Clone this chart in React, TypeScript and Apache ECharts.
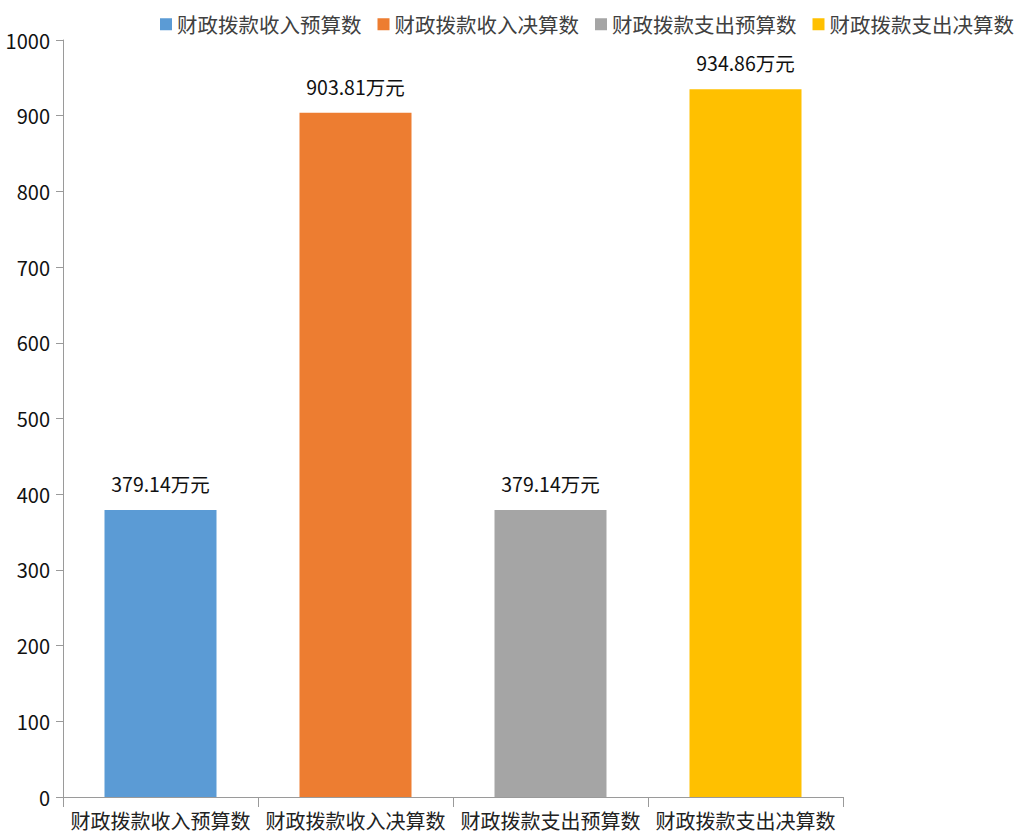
import React, { useEffect, useRef } from "react";
import * as echarts from "echarts";

const categories = ["财政拨款收入预算数", "财政拨款收入决算数", "财政拨款支出预算数", "财政拨款支出决算数"];
const values = [379.14, 903.81, 379.14, 934.86];
const colors = ["#5B9BD5", "#ED7D31", "#A5A5A5", "#FFC000"];
const yTicks = { min: 0, max: 1000, interval: 100 };
const FONT = "'Noto Sans CJK SC', 'Noto Sans', sans-serif";

export default function App() {
  const ref = useRef<HTMLDivElement>(null);
  useEffect(() => {
    const chart = echarts.init(ref.current!, null, { renderer: "svg" });
    const series = categories.map((name, i) => ({
      name,
      type: "bar",
      stack: "all",
      barWidth: 112,
      itemStyle: { color: colors[i] },
      label: {
        show: true,
        position: "top",
        distance: 17,
        color: "#111",
        fontSize: 19.5,
        fontFamily: FONT,
        formatter: (p: any) => `${p.value.toFixed(2)}万元`,
      },
      data: categories.map((_, j) => (j === i ? values[i] : "-")),
    }));
    chart.setOption({
      animation: false,
      textStyle: { fontFamily: FONT },
      legend: {
        left: 160,
        top: 14,
        width: 880,
        icon: "rect",
        itemWidth: 12,
        itemHeight: 12,
        itemGap: 16,
        padding: 0,
        textStyle: { fontSize: 20.5, color: "#404040", fontFamily: FONT },
        data: categories,
      },
      grid: { left: 63, right: 181, top: 40, bottom: 41, containLabel: false },
      xAxis: {
        type: "category",
        data: categories,
        axisLine: { lineStyle: { color: "#9a9a9a", width: 1 } },
        axisTick: { show: true, length: 10, lineStyle: { color: "#9a9a9a" } },
        axisLabel: { fontSize: 20, color: "#222", margin: 13, interval: 0, fontFamily: FONT },
      },
      yAxis: {
        type: "value",
        min: yTicks.min,
        max: yTicks.max,
        interval: yTicks.interval,
        axisLine: { show: true, lineStyle: { color: "#9a9a9a", width: 1 } },
        axisTick: { show: true, length: 7, lineStyle: { color: "#9a9a9a" } },
        splitLine: { show: false },
        axisLabel: {
          fontSize: 20,
          color: "#111",
          margin: 13,
          fontFamily: FONT,
          formatter: (v: number) => String(v),
        },
      },
      series,
    });
    return () => chart.dispose();
  }, []);
  return <div ref={ref} style={{ width: 1024, height: 838, position: "absolute", left: 0, top: 0 }} />;
}
